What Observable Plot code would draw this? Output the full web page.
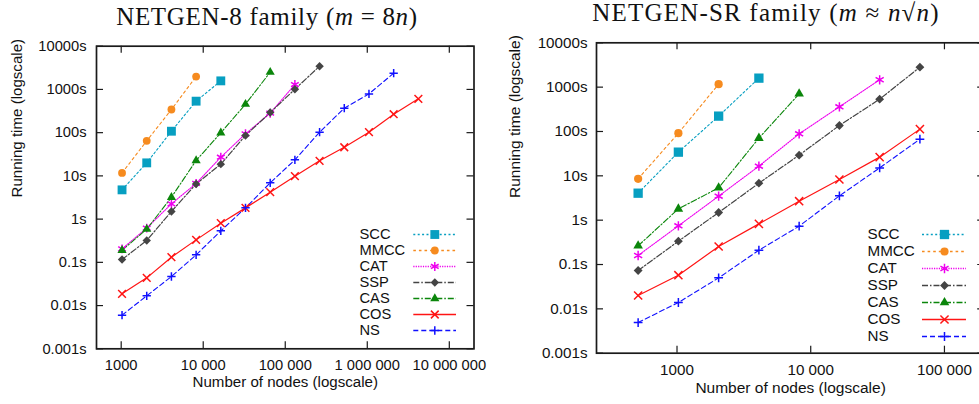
<!DOCTYPE html>
<html>
<head>
<meta charset="utf-8">
<script src="https://cdn.jsdelivr.net/npm/d3@7"></script>
<script src="https://cdn.jsdelivr.net/npm/@observablehq/plot@0.6"></script>
<style>
  html, body { margin: 0; padding: 0; background: #fff; overflow: hidden; }
  #root { position: relative; width: 979px; height: 404px; overflow: hidden; background: #fff; }
  .abs { position: absolute; }
  .title { font-family: "Liberation Serif", "DejaVu Serif", serif; font-size: 25px; line-height: 25px; text-align: center; color: #111; white-space: nowrap; letter-spacing: 0.7px; }
  .title i { font-style: italic; }
  .ov { text-decoration: overline; }
</style>
</head>
<body>
<div id="root"></div>
<script>
// ---------------- DATA ----------------
const seriesNames = ["SCC", "MMCC", "CAT", "SSP", "CAS", "COS", "NS"];

// NETGEN-8 family (m = 8n)
const netgen8Nodes = [1024, 2048, 4096, 8192, 16384, 32768, 65536, 131072, 262144, 524288, 1048576, 2097152, 4194304];
const netgen8_SCC  = [4.75, 20, 108, 535, 1578];
const netgen8_MMCC = [11.7, 64.6, 343, 1988];
const netgen8_CAT  = [0.205, 0.62, 2.25, 6.7, 27, 94, 282, 1300];
const netgen8_SSP  = [0.116, 0.32, 1.5, 6.5, 18.7, 86, 292, 1012, 3446];
const netgen8_CAS  = [0.19, 0.585, 3.2, 22.7, 99, 455, 2505];
const netgen8_COS  = [0.0187, 0.0438, 0.1316, 0.331, 0.805, 1.82, 4.2, 9.85, 22.3, 46, 102.5, 267, 605];
const netgen8_NS   = [0.006, 0.0168, 0.047, 0.149, 0.535, 1.82, 6.9, 23.5, 102.5, 368, 789, 2374];

// NETGEN-SR family (m ≈ n√n)
const srNodes  = [512, 1024, 2048, 4096, 8192, 16384, 32768, 65536];
const sr_SCC   = [4.06, 34.2, 222, 1596];
const sr_MMCC  = [8.56, 91.7, 1169];
const sr_CAT   = [0.16, 0.745, 3.48, 16.5, 88.5, 360, 1464];
const sr_SSP   = [0.0733, 0.336, 1.49, 6.83, 29.3, 136.6, 536, 2826];
const sr_CAS   = [0.264, 1.8, 5.36, 70.7, 707];
const sr_COS   = [0.02, 0.0574, 0.255, 0.826, 2.68, 8.27, 26.4, 113];
const sr_NS    = [0.00492, 0.0139, 0.05, 0.21, 0.733, 3.54, 15.1, 67.1];

// Ticks
const yTicks = [0.001, 0.01, 0.1, 1, 10, 100, 1000, 10000];
const yTickLabels = ["0.001s", "0.01s", "0.1s", "1s", "10s", "100s", "1000s", "10000s"];
const x8Ticks = [1000, 10000, 100000, 1000000, 10000000];
const x8TickLabels = ["1000", "10 000", "100 000", "1 000 000", "10 000 000"];
const xSRTicks = [1000, 10000, 100000];
const xSRTickLabels = ["1000", "10 000", "100 000"];

const titles = ["NETGEN-8 family", "NETGEN-SR family"];
const xAxisLabel = "Number of nodes (logscale)";
const yAxisLabel = "Running time (logscale)";

// ---------------- STYLES ----------------
const styles = {
  SCC:  {color: "#079fc1", dash: "2,2.4", width: 1.1, symbol: "square",   filled: true,  r: 5.0},
  MMCC: {color: "#f68b1f", dash: "2.6,3", width: 1.1, symbol: "circle",   filled: true,  r: 3.9},
  CAT:  {color: "#ee00ee", dash: "1.2,1.2", width: 1.1, symbol: "asterisk", filled: false, r: 4.2},
  SSP:  {color: "#444444", dash: "6,2,1.5,2", width: 1.2, symbol: "diamond2", filled: true, r: 3.8},
  CAS:  {color: "#0b860b", dash: "6,2,1.5,2", width: 1.1, symbol: "triangle", filled: true, r: 3.4},
  COS:  {color: "#ff1414", dash: null, width: 1.2, symbol: "times", filled: false, r: 3.6},
  NS:   {color: "#1010ff", dash: "5,3", width: 1.1, symbol: "plus", filled: false, r: 2.8}
};

const root = document.getElementById("root");

function rowsOf(nodes, values) {
  return values.map((t, i) => ({n: nodes[i], t}));
}

function panel(cfg) {
  const {series, xDomain, xTicks, xLabels, width, mL, mR, mT, mB, fs, lfs, k, tickPadX, tickPadY, xLabelDy, yLabelDx} = cfg;
  const height = 404;
  const innerW = width - mL - mR;
  const innerH = height - mT - mB;
  const tickLen = 7;
  const xMap = new Map(xTicks.map((d, i) => [d, xLabels[i]]));
  const yMap = new Map(yTicks.map((d, i) => [d, yTickLabels[i]]));
  const marks = [];
  // inward ticks on all four sides
  const tickStyle = {stroke: "#1a1a1a", strokeWidth: 1.2};
  marks.push(Plot.tickX(xTicks, {x: d => d, insetTop: innerH - tickLen, ...tickStyle}));
  marks.push(Plot.tickX(xTicks, {x: d => d, insetBottom: innerH - tickLen, ...tickStyle}));
  marks.push(Plot.tickY(yTicks, {y: d => d, insetRight: innerW - tickLen, ...tickStyle}));
  marks.push(Plot.tickY(yTicks, {y: d => d, insetLeft: innerW - tickLen, ...tickStyle}));
  // series
  for (const name of seriesNames) {
    const s = styles[name];
    const data = series[name];
    marks.push(Plot.line(data, {x: "n", y: "t", stroke: s.color, strokeWidth: s.width, strokeDasharray: s.dash || undefined}));
  }
  for (const name of seriesNames) {
    const s = styles[name];
    const data = series[name];
    marks.push(Plot.dot(data, {
      x: "n", y: "t", symbol: s.symbol, r: s.r * k,
      fill: s.filled ? s.color : "none",
      stroke: s.filled ? "none" : s.color,
      strokeWidth: s.filled ? 0 : 1.5
    }));
  }
  marks.push(Plot.frame({stroke: "#1a1a1a", strokeWidth: 1.7}));
  // axes (labels only; ticks drawn inward above)
  marks.push(Plot.axisX({ticks: xTicks, tickFormat: d => xMap.get(d), tickSize: 0, tickPadding: tickPadX, label: null, fontSize: fs, fill: "#111"}));
  marks.push(Plot.axisY({ticks: yTicks, tickFormat: d => yMap.get(d), tickSize: 0, tickPadding: tickPadY, label: null, fontSize: fs, fill: "#111"}));
  marks.push(Plot.text([xAxisLabel], {text: d => d, frameAnchor: "bottom", dy: xLabelDy, fontSize: lfs, fill: "#111"}));
  marks.push(Plot.text([yAxisLabel], {text: d => d, frameAnchor: "left", dx: yLabelDx, rotate: -90, fontSize: lfs, fill: "#111"}));

  return Plot.plot({
    width, height,
    marginLeft: mL, marginRight: mR, marginTop: mT, marginBottom: mB,
    x: {type: "log", domain: xDomain},
    y: {type: "log", domain: [0.001, 10000]},
    style: {fontFamily: "'Liberation Sans', Arial, sans-serif", fontSize: fs + "px", background: "transparent", maxWidth: "none", overflow: "visible"},
    marks
  });
}

function legend(cfg) {
  const {width, rowGap, fs, k, lineStart, markerX} = cfg;
  const pad = 8;
  const height = pad * 2 + rowGap * (seriesNames.length - 1);
  const marks = [];
  marks.push(Plot.text(seriesNames, {y: d => d, text: d => d, frameAnchor: "left", textAnchor: "start", fontSize: fs, fill: "#111"}));
  for (const name of seriesNames) {
    const s = styles[name];
    marks.push(Plot.ruleY([name], {y: d => d, insetLeft: lineStart, stroke: s.color, strokeWidth: s.width + 0.2, strokeDasharray: s.dash || undefined}));
    marks.push(Plot.dot([name], {
      y: d => d, frameAnchor: "left", dx: markerX, symbol: s.symbol, r: s.r * k,
      fill: s.filled ? s.color : "none",
      stroke: s.filled ? "none" : s.color,
      strokeWidth: s.filled ? 0 : 1.5
    }));
  }
  return Plot.plot({
    width, height,
    marginLeft: 0, marginRight: 0, marginTop: pad, marginBottom: pad,
    x: {domain: [0, 1], axis: null},
    y: {type: "point", domain: seriesNames, padding: 0, axis: null},
    style: {fontFamily: "'Liberation Sans', Arial, sans-serif", fontSize: fs + "px", background: "transparent", maxWidth: "none", overflow: "visible"},
    marks
  });
}

function place(el, left, top) {
  el.classList.add("abs");
  el.style.left = left + "px";
  el.style.top = top + "px";
  root.appendChild(el);
  return el;
}

// Left panel
const series8 = {
  SCC: rowsOf(netgen8Nodes, netgen8_SCC),
  MMCC: rowsOf(netgen8Nodes, netgen8_MMCC),
  CAT: rowsOf(netgen8Nodes, netgen8_CAT),
  SSP: rowsOf(netgen8Nodes, netgen8_SSP),
  CAS: rowsOf(netgen8Nodes, netgen8_CAS),
  COS: rowsOf(netgen8Nodes, netgen8_COS),
  NS: rowsOf(netgen8Nodes, netgen8_NS)
};
const left = panel({
  series: series8, xDomain: [500, 2e7], xTicks: x8Ticks, xLabels: x8TickLabels,
  width: 490, mL: 96, mR: 16.5, mT: 45.7, mB: 55.7, fs: 14.7, lfs: 15.1, k: 1,
  tickPadX: 10.5, tickPadY: 10, xLabelDy: 37.7, yLabelDx: -79
});
place(left, 0, 0);

// Right panel
const seriesSR = {
  SCC: rowsOf(srNodes, sr_SCC),
  MMCC: rowsOf(srNodes, sr_MMCC),
  CAT: rowsOf(srNodes, sr_CAT),
  SSP: rowsOf(srNodes, sr_SSP),
  CAS: rowsOf(srNodes, sr_CAS),
  COS: rowsOf(srNodes, sr_COS),
  NS: rowsOf(srNodes, sr_NS)
};
const right = panel({
  series: seriesSR, xDomain: [250, 2e5], xTicks: xSRTicks, xLabels: xSRTickLabels,
  width: 504, mL: 106, mR: 9.8, mT: 42.3, mB: 51.3, fs: 15.2, lfs: 15.5, k: 1.05,
  tickPadX: 10.9, tickPadY: 9, xLabelDy: 39.3, yLabelDx: -81
});
place(right, 490, 0);

// Legends
place(legend({width: 97, rowGap: 16.67, fs: 14.7, k: 1, lineStart: 54.3, markerX: 75.3}), 359, 224);
place(legend({width: 99, rowGap: 17.33, fs: 15.2, k: 1.05, lineStart: 55, markerX: 77}), 867, 225.3);

// Titles
const t1 = document.createElement("div");
t1.className = "title";
t1.style.width = "490px";
t1.innerHTML = titles[0] + " (<i>m</i> = 8<i>n</i>)";
place(t1, 267 - 245, 4.1);

const t2 = document.createElement("div");
t2.className = "title";
t2.style.width = "490px";
t2.style.letterSpacing = "1.2px";
t2.innerHTML = titles[1] + " (<i>m</i> ≈ <i>n</i>√<span class=\"ov\"><i>n</i></span>)";
place(t2, 766 - 245, -0.2);
</script>
</body>
</html>
